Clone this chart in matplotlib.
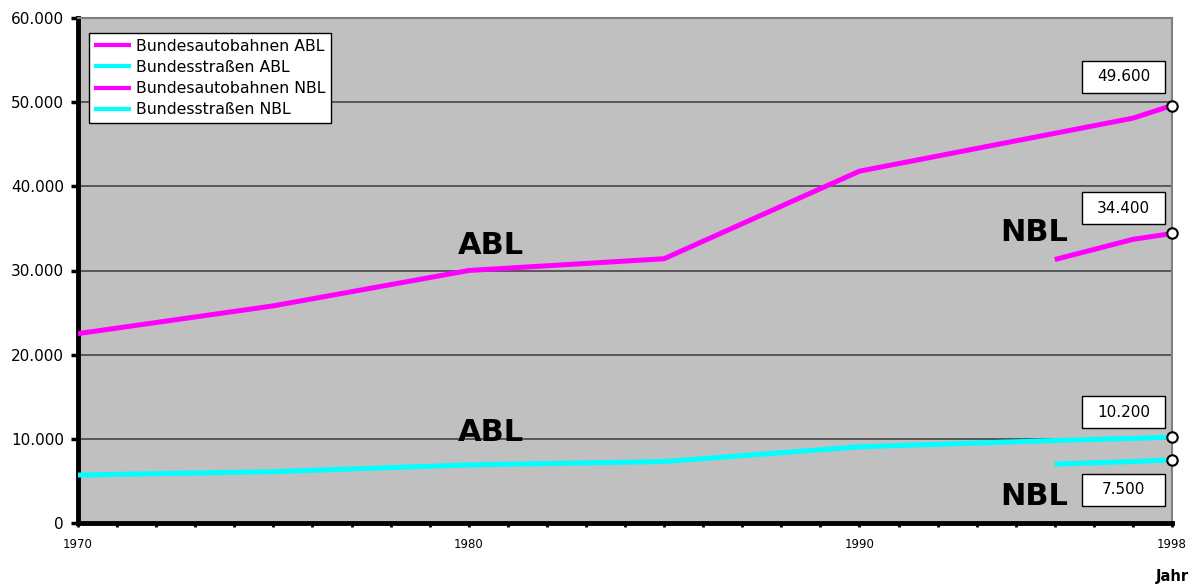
import matplotlib
matplotlib.use("Agg")
import matplotlib.pyplot as plt
from matplotlib.patches import Rectangle
from matplotlib.transforms import ScaledTranslation

plt.rcParams["font.family"] = ["DejaVu Sans"]

# ---------------------------------------------------------------
# Daten
# ---------------------------------------------------------------
years_abl = [1970, 1975, 1980, 1985, 1990, 1995, 1997, 1998]
autobahn_abl = [22500, 25800, 30000, 31400, 41800, 46300, 48100, 49600]
strassen_abl = [5700, 6100, 6900, 7300, 9050, 9800, 10050, 10200]

years_nbl = [1995, 1997, 1998]
autobahn_nbl = [31300, 33700, 34400]
strassen_nbl = [7000, 7300, 7500]

labels = ["Bundesautobahnen ABL", "Bundesstraßen ABL",
          "Bundesautobahnen NBL", "Bundesstraßen NBL"]

yticks = [0, 10000, 20000, 30000, 40000, 50000, 60000]
xlabel_years = [1970, 1980, 1990, 1998]

magenta = "#FF00FF"
cyan = "#00FFFF"


def de_fmt(v):
    # Tausenderpunkt wie im deutschen Format
    return f"{v:,.0f}".replace(",", ".")


fig = plt.figure(figsize=(11.89, 5.88), dpi=100)
ax = fig.add_axes([78 / 1189, 65 / 588, 1094 / 1189, 505 / 588])
ax.set_facecolor("#C0C0C0")

ax.plot(years_abl, autobahn_abl, color=magenta, lw=3.6, label=labels[0],
        solid_capstyle="butt", zorder=3)
ax.plot(years_abl, strassen_abl, color=cyan, lw=3.6, label=labels[1],
        solid_capstyle="butt", zorder=3)
ax.plot(years_nbl, autobahn_nbl, color=magenta, lw=3.6, label=labels[2],
        solid_capstyle="butt", zorder=3)
ax.plot(years_nbl, strassen_nbl, color=cyan, lw=3.6, label=labels[3],
        solid_capstyle="butt", zorder=3)

# Endpunkte mit Wertkästchen
ends = [autobahn_abl[-1], autobahn_nbl[-1], strassen_abl[-1], strassen_nbl[-1]]
box_offsets = [0.29, 0.25, 0.25, -0.30]   # Kastenmitte relativ zum Punkt (inch)
for v, off in zip(ends, box_offsets):
    ax.plot([years_abl[-1]], [v], marker="o", ms=7.5, mfc="white",
            mec="black", mew=1.5, zorder=6, clip_on=False)
    tr = fig.dpi_scale_trans + ScaledTranslation(years_abl[-1], v, ax.transData)
    ax.add_patch(Rectangle((-0.90, off - 0.16), 0.83, 0.32, transform=tr,
                           facecolor="white", edgecolor="black", lw=1.0,
                           zorder=5, clip_on=False))
    ax.text(-0.485, off, de_fmt(v), transform=tr, ha="center", va="center",
            fontsize=11, zorder=6)

# Beschriftungen der Kurven
ax.text(1980.57, 33000, "ABL", fontsize=22, fontweight="bold",
        ha="center", va="center", zorder=4)
ax.text(1980.57, 10800, "ABL", fontsize=22, fontweight="bold",
        ha="center", va="center", zorder=4)
ax.text(1994.47, 34550, "NBL", fontsize=22, fontweight="bold",
        ha="center", va="center", zorder=4)
ax.text(1994.47, 3100, "NBL", fontsize=22, fontweight="bold",
        ha="center", va="center", zorder=4)

ax.set_xlim(1970, 1998)
ax.set_ylim(0, 60000)

ax.set_yticks(yticks)
ax.set_yticklabels([de_fmt(v) for v in yticks], fontsize=11)
ax.yaxis.grid(True, color="#505050", lw=1.3)
ax.set_axisbelow(True)

ax.set_xticks(range(1970, 1999))
ax.set_xticklabels([str(y) if y in xlabel_years else "" for y in range(1970, 1999)],
                   fontsize=8.5)
ax.tick_params(axis="x", length=3, width=2, pad=8, colors="black")
ax.tick_params(axis="y", length=5, width=2.5, pad=5, colors="black")

for side in ["left", "bottom"]:
    ax.spines[side].set_linewidth(3.5)
    ax.spines[side].set_color("black")
for side in ["top", "right"]:
    ax.spines[side].set_linewidth(1.5)
    ax.spines[side].set_color("#808080")

ax.text(1998, -6400, "Jahr", fontsize=10.5, fontweight="bold",
        ha="center", va="center", clip_on=False)

leg = ax.legend(loc="upper left", bbox_to_anchor=(0.01, 0.970),
                borderaxespad=0, fontsize=11.3, frameon=True, fancybox=False,
                handlelength=2.3, handletextpad=0.35, labelspacing=0.4,
                borderpad=0.35)
leg.get_frame().set_edgecolor("black")
leg.get_frame().set_linewidth(1.0)
leg.get_frame().set_alpha(1)
for line in leg.get_lines():
    line.set_linewidth(3)

fig.savefig("out.png", dpi=100)
